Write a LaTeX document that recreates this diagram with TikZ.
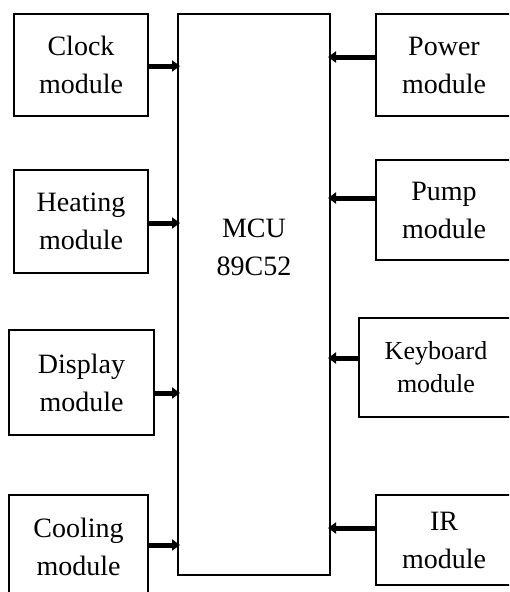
\documentclass[tikz,border=0pt]{standalone}
\usepackage{fontspec}
\setmainfont{Liberation Serif}
\usetikzlibrary{arrows.meta}
\tikzset{
  modbox/.style={draw, line width=2.6pt, align=center, inner sep=0pt,
    font=\fontsize{28}{38}\selectfont},
  mcubox/.style={draw, line width=2pt, inner sep=0pt},
  bus/.style={line width=5pt, shorten >=-3pt, -{Triangle[length=8pt,width=11pt]}},
  lbl/.style={align=center, font=\fontsize{28}{38}\selectfont}
}
\begin{document}
\begin{tikzpicture}[x=1pt,y=-1pt]
\clip (0,0) rectangle (509,592);
\fill[white] (0,0) rectangle (509,592);
% MCU
\node[mcubox, minimum width=152pt, minimum height=561pt] (mcu) at (254,294.5) {};
\node[lbl] (mcut) at (254,247) {MCU\\89C52};
% left boxes
\node[modbox, minimum width=134pt, minimum height=102pt] (clock) at (81,65) {Clock\\module};
\node[modbox, minimum width=134pt, minimum height=103pt] (heat) at (81,221.5) {Heating\\module};
\node[modbox, minimum width=145pt, minimum height=105pt] (disp) at (81.5,382.5) {Display\\module};
\node[modbox, minimum width=139pt, minimum height=104pt] (cool) at (78.5,547) {Cooling\\module};
% right boxes
\node[modbox, minimum width=136pt, minimum height=102pt] (power) at (444,65) {Power\\module};
\node[modbox, minimum width=136pt, minimum height=100pt] (pump) at (444,210) {Pump\\module};
\node[modbox, minimum width=154pt, minimum height=99pt, font=\fontsize{26}{33}\selectfont] (key) at (436,367.5) {Keyboard\\module};
\node[modbox, minimum width=136pt, minimum height=90pt] (ir) at (444,540) {IR\\module};
% connectors
\draw[bus] (clock.east |- 0,66) -- (mcu.west |- 0,66);
\draw[bus] (heat.east |- 0,223) -- (mcu.west |- 0,223);
\draw[bus] (disp.east |- 0,393) -- (mcu.west |- 0,393);
\draw[bus] (cool.east |- 0,545) -- (mcu.west |- 0,545);
\draw[bus] (power.west |- 0,57) -- (mcu.east |- 0,57);
\draw[bus] (pump.west |- 0,198) -- (mcu.east |- 0,198);
\draw[bus] (key.west |- 0,358) -- (mcu.east |- 0,358);
\draw[bus] (ir.west |- 0,528) -- (mcu.east |- 0,528);
\end{tikzpicture}
\end{document}
